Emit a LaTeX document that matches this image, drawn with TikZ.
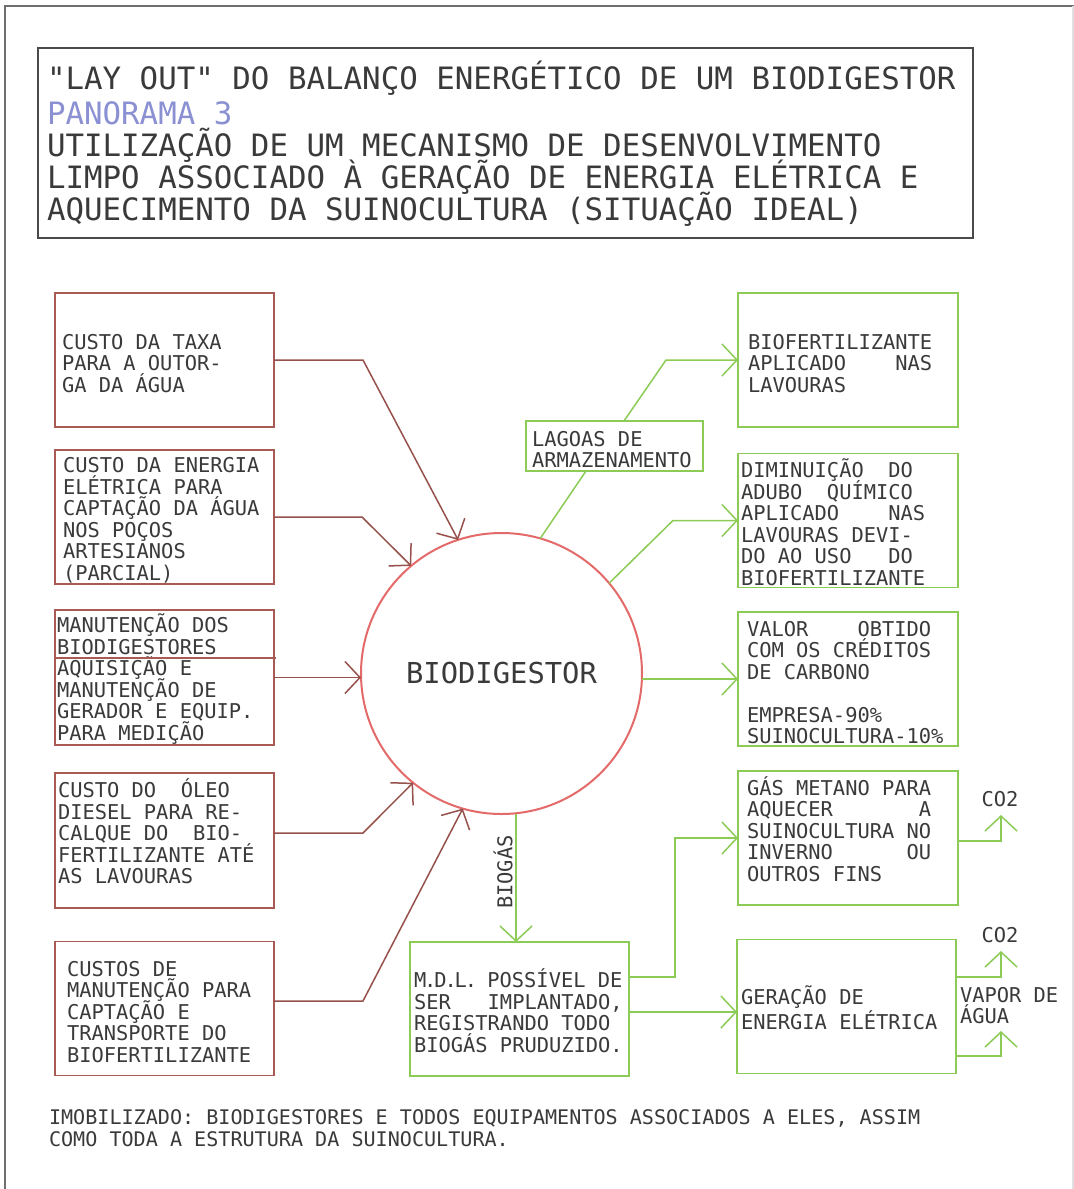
\documentclass[tikz,border=0pt]{standalone}
\usepackage{fontspec}
\newfontfamily\cadfont{DejaVu Sans Mono}
\usetikzlibrary{calc,arrows.meta}
\definecolor{lr}{HTML}{A85A55}
\definecolor{cr}{HTML}{E46A6A}
\definecolor{gr}{HTML}{8CCB55}
\definecolor{tg}{HTML}{4A4A4A}
\definecolor{tx}{HTML}{3A3A3A}
\definecolor{pan}{HTML}{8A90D2}
\newcommand{\hsp}[1]{\hspace*{#1\fontcharwd\font`M}}
\newcommand{\pd}{\kern-1.05pt.\kern-1.05pt}
\newcommand{\sps}{\spaceskip=\fontcharwd\font`M\relax\xspaceskip=\spaceskip\lineskiplimit=-\maxdimen\lineskip=0pt\relax}
\newcommand{\fsp}{\sps\rule{0pt}{11pt}}
\newcommand{\bfnt}{\cadfont\fontsize{10.2pt}{10.75pt}\selectfont}
\newcommand{\tfnt}{\cadfont\fontsize{15.4pt}{16pt}\selectfont}
\begin{document}
\begin{tikzpicture}[x=0.5pt,y=-0.5pt,
  every node/.style={text=tx, outer sep=0pt},
  lbox/.style={draw=lr, line width=0.9pt, minimum height=67pt, align=left, font=\bfnt, inner ysep=0pt},
  rbox/.style={draw=gr, line width=0.9pt, minimum height=67pt, align=left, font=\bfnt, inner ysep=0pt},
  redln/.style={draw=lr!90!black, line width=0.75pt},
  grnln/.style={draw=gr, line width=0.75pt},
  arr/.style={-{Straight Barb[length=7.5pt,width=16pt]}},
  lbl/.style={font=\bfnt, inner sep=0pt},
]
\useasboundingbox (0,0) rectangle (1074,1189);
\fill[white] (0,0) rectangle (1074,1189);
% outer frame
\draw[tg!80, line width=0.8pt] (5,1189) -- (5,6) -- (1074,6);
\draw[black!12, line width=0.6pt] (1073,6) -- (1073,1189);

% title block
\node[draw=tg, line width=1pt, minimum width=467.5pt, minimum height=95pt, inner sep=0pt] (tb) at (505.5,143) {};
\node[font=\tfnt, anchor=base west, inner sep=0pt] (t1) at (47,89) {"LAY OUT" DO BALANÇO ENERGÉTICO DE UM BIODIGESTOR};
\node[font=\tfnt, anchor=base west, inner sep=0pt, text=pan] (t2) at (47,124) {PANORAMA 3};
\node[font=\tfnt, anchor=base west, inner sep=0pt] (t3) at (47,156) {UTILIZAÇÃO DE UM MECANISMO DE DESENVOLVIMENTO};
\node[font=\tfnt, anchor=base west, inner sep=0pt] (t4) at (47,188) {LIMPO ASSOCIADO À GERAÇÃO DE ENERGIA ELÉTRICA E};
\node[font=\tfnt, anchor=base west, inner sep=0pt] (t5) at (47,220) {AQUECIMENTO DA SUINOCULTURA (SITUAÇÃO IDEAL)};

% central circle
\node[circle, draw=cr, line width=1pt, minimum size=140.5pt, inner sep=0pt,
      font=\cadfont\fontsize{14.4pt}{16pt}\selectfont] (bio) at (501.5,673.5) {BIODIGESTOR};

% left boxes
\node[lbox, inner xsep=3.5pt, text width=102.5pt] (L1) at (164.5,360)
  {\fsp CUSTO DA TAXA\\PARA A OUTOR-\\GA DA ÁGUA};
\node[lbox, inner xsep=4pt, text width=101.5pt] (L2) at (164.5,517)
  {\fsp CUSTO DA ENERGIA\\ELÉTRICA PARA\\CAPTAÇÃO DA ÁGUA\\NOS POÇOS\\ARTESIANOS\\(PARCIAL)};
\node[lbox, inner xsep=1pt, text width=107.5pt, minimum height=67.5pt] (L3) at (164.5,677.5)
  {\fsp MANUTENÇÃO DOS\\BIODIGESTORES\\AQUISIÇÃO E\\MANUTENÇÃO DE\\GERADOR E EQUIP.\\PARA MEDIÇÃO};
\draw[draw=lr, line width=0.9pt] ([yshift=-24pt]L3.north west) -- ([yshift=-24pt,xshift=1pt]L3.north east);
\node[lbox, inner xsep=1.5pt, text width=106.5pt, minimum height=67.5pt] (L4) at (164.5,840.5)
  {\fsp CUSTO DO\hsp{2}ÓLEO\\DIESEL PARA RE-\\CALQUE DO\hsp{2}BIO-\\FERTILIZANTE ATÉ\\AS LAVOURAS\\\mbox{}};
\node[lbox, inner xsep=6pt, text width=97.5pt] (L5) at (164.5,1008.5)
  {\fsp CUSTOS DE\\MANUTENÇÃO PARA\\CAPTAÇÃO E\\TRANSPORTE DO\\BIOFERTILIZANTE};

% right boxes
\node[rbox, inner xsep=5pt, text width=100pt] (R1) at (848,360)
  {\fsp BIOFERTILIZANTE\\APLICADO\hsp{4}NAS\\LAVOURAS};
\node[rbox, inner xsep=1.5pt, text width=107pt] (R2) at (848,520.5)
  {\fsp DIMINUIÇÃO\hsp{2}DO\\ADUBO\hsp{2}QUÍMICO\\APLICADO\hsp{4}NAS\\LAVOURAS DEVI-\\DO AO USO\hsp{3}DO\\BIOFERTILIZANTE};
\node[rbox, inner xsep=4.5pt, text width=101pt] (R3) at (848,679)
  {\fsp VALOR\hsp{4}OBTIDO\\COM OS CRÉDITOS\\DE CARBONO\\\mbox{}\\EMPRESA-90\%\\SUINOCULTURA-10\%};
\node[rbox, inner xsep=4.5pt, text width=101pt] (R4) at (848,838)
  {\fsp GÁS METANO PARA\\AQUECER\hsp{7}A\\SUINOCULTURA NO\\INVERNO\hsp{6}OU\\OUTROS FINS\\\mbox{}};
\node[rbox, inner xsep=2pt, text width=105.5pt] (R5) at (846.5,1006.5)
  {\fsp GERAÇÃO DE\\ENERGIA ELÉTRICA};
\node[rbox, inner xsep=2pt, text width=105.5pt] (mdl) at (519.5,1009)
  {\fsp M\pd D\pd L\pd{} POSSÍVEL DE\\SER\hsp{3}IMPLANTADO,\\REGISTRANDO TODO\\BIOGÁS PRUDUZIDO.};
\node[rbox, inner xsep=3pt, text width=82.5pt, minimum height=25pt] (lag) at (614.5,446)
  {\fsp LAGOAS DE\\ARMAZENAMENTO};

% labels
\node[lbl, rotate=90] (bg) at (503,872) {BIOGÁS};
\node[lbl] (c1) at (1000,799) {CO2};
\node[lbl] (c2) at (1000,935) {CO2};
\node[lbl, anchor=west, align=left] (vap) at (960,1005.5) {\sps VAPOR DE\\ÁGUA};
\coordinate (tA) at (1001,815);
\coordinate (tB) at (1001,951);
\coordinate (tC) at (1001,1031);

% red connectors
\draw[redln,arr] (L1.east) -- ++(89,0) -- (bio.108);
\draw[redln,arr] (L2.east) -- ++(88,0) -- (bio.130);
\draw[redln,arr] (L3.east) -- (L3.east -| bio.west);
\draw[redln,arr] ([yshift=3.75pt]L4.east) -- ++(89,0) -- (bio.231);
\draw[redln,arr] ([yshift=3.75pt]L5.east) -- ++(89,0) -- (bio.254);

% green connectors
\draw[grnln] (bio.74) -- ([xshift=-14.25pt]lag.south);
\draw[grnln,arr] ([xshift=4.75pt]lag.north) -- ($(R1.west)+(-72,0)$) -- (R1.west);
\draw[grnln,arr] (bio.40) -- ($(R2.west)+(-65,0)$) -- (R2.west);
\draw[grnln,arr] (R3.west -| bio.east) -- (R3.west);
\draw[grnln,arr] ([xshift=-1.75pt]mdl.north |- bio.south) -- ([xshift=-1.75pt]mdl.north);
\draw[grnln,arr] ([yshift=16pt]mdl.east) -| ($(R4.west)+(-63,0)$) -- (R4.west);
\draw[grnln,arr] ([yshift=-1.5pt]mdl.east) -- ([yshift=-2.75pt]R5.west);
\draw[grnln,arr] ([yshift=-1.5pt]R4.east) -| (tA);
\draw[grnln,arr] ([yshift=14.75pt]R5.east) -| (tB);
\draw[grnln,arr] ([yshift=-24.75pt]R5.east) -| (tC);

% footnote
\node[font=\cadfont\fontsize{10.05pt}{11pt}\selectfont, anchor=west, align=left, inner sep=0pt] (foot) at (49,1128)
  {\sps IMOBILIZADO: BIODIGESTORES E TODOS EQUIPAMENTOS ASSOCIADOS A ELES, ASSIM\\COMO TODA A ESTRUTURA DA SUINOCULTURA.};
\end{tikzpicture}
\end{document}
